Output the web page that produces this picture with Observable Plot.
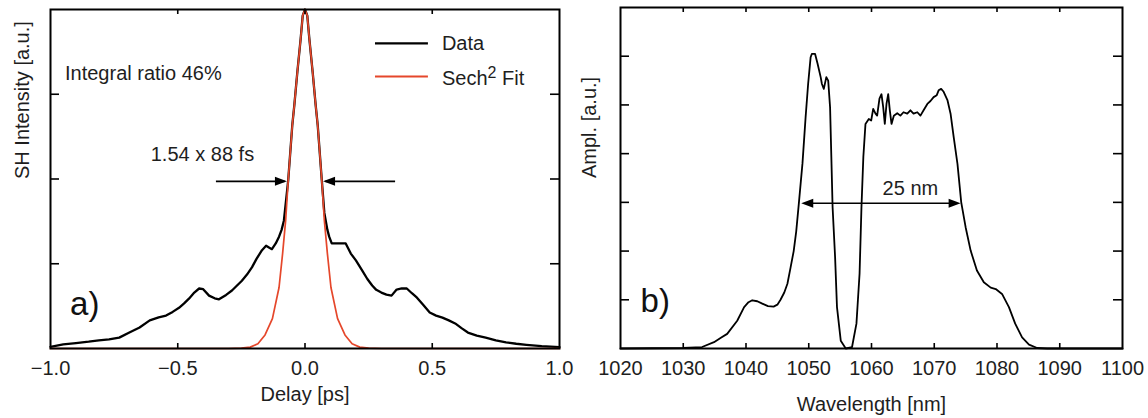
<!DOCTYPE html>
<html><head><meta charset="utf-8">
<script src="https://cdn.jsdelivr.net/npm/d3@7"></script>
<script src="https://cdn.jsdelivr.net/npm/@observablehq/plot@0.6"></script>
<style>
body{margin:0;background:#fff;}
#wrap{display:flex;width:1148px;height:418px;background:#fff;}
#wrap svg{display:block;}
</style></head><body><div id="wrap"></div>
<script>
// ---------- Panel a) autocorrelation ----------
const delay = [-1.00,-0.95,-0.90,-0.85,-0.81,-0.77,-0.73,-0.69,-0.65,-0.61,-0.575,-0.546,-0.52,-0.495,-0.475,-0.456,-0.435,-0.416,-0.40,-0.377,-0.355,-0.338,-0.31,-0.287,-0.268,-0.248,-0.228,-0.208,-0.19,-0.169,-0.153,-0.14,-0.13,-0.115,-0.102,-0.092,-0.083,-0.066,-0.050,-0.042,-0.030,-0.017,-0.009,0,0.009,0.017,0.030,0.042,0.050,0.066,0.076,0.088,0.095,0.105,0.13,0.16,0.18,0.20,0.225,0.245,0.264,0.28,0.30,0.32,0.34,0.36,0.38,0.40,0.42,0.44,0.465,0.49,0.515,0.54,0.565,0.59,0.615,0.64,0.675,0.71,0.75,0.79,0.83,0.87,0.93,1.0];
const shIntensity = [0.005,0.012,0.016,0.020,0.024,0.027,0.032,0.047,0.062,0.083,0.092,0.097,0.108,0.120,0.133,0.147,0.165,0.177,0.175,0.156,0.148,0.145,0.158,0.171,0.185,0.200,0.218,0.240,0.265,0.290,0.303,0.297,0.293,0.310,0.330,0.350,0.377,0.496,0.658,0.717,0.816,0.914,0.982,1.0,0.982,0.914,0.816,0.717,0.658,0.496,0.40,0.35,0.33,0.31,0.31,0.31,0.28,0.26,0.23,0.205,0.186,0.173,0.165,0.159,0.156,0.174,0.177,0.177,0.163,0.150,0.128,0.106,0.097,0.091,0.083,0.074,0.060,0.047,0.038,0.032,0.024,0.018,0.014,0.011,0.007,0.004];
const fitDelay = [-1.0,-0.30,-0.25,-0.215,-0.185,-0.157,-0.128,-0.102,-0.088,-0.076,-0.066,-0.050,-0.042,-0.030,-0.017,-0.009,0,0.009,0.017,0.030,0.042,0.050,0.066,0.076,0.088,0.102,0.128,0.157,0.185,0.215,0.25,0.30,1.0];
const fitIntensity = [0,0,0.001,0.004,0.014,0.040,0.088,0.180,0.280,0.378,0.496,0.658,0.717,0.816,0.914,0.982,1.0,0.982,0.914,0.816,0.717,0.658,0.496,0.378,0.280,0.180,0.088,0.040,0.014,0.004,0.001,0,0];
const delayTicks = [-1.0,-0.5,0.0,0.5,1.0];
const intensityTicks = [0.25,0.5,0.75];
const legendLabels = ["Data","Sech² Fit"];

// ---------- Panel b) spectrum ----------
const wavelength = [1020,1025,1030,1033,1034.9,1036,1037,1038.6,1039.7,1040.4,1041,1041.8,1042.6,1043.5,1044.4,1045,1045.5,1046.1,1046.6,1047.1,1047.6,1048.0,1048.4,1049.0,1049.5,1049.9,1050.3,1050.5,1051.0,1051.4,1051.9,1052.1,1052.4,1052.8,1053.1,1053.4,1053.6,1053.8,1054.2,1054.5,1055.1,1055.9,1056.9,1057.6,1058.1,1058.4,1058.7,1059.04,1059.57,1059.95,1060.27,1060.64,1060.9,1061.27,1061.59,1061.86,1062.12,1062.39,1062.66,1062.92,1063.19,1063.56,1064.1,1064.6,1065.1,1065.7,1066.2,1066.7,1067.3,1067.8,1068.3,1068.9,1069.4,1069.9,1070.4,1070.7,1071.1,1071.5,1072.1,1072.6,1073.1,1073.7,1074.3,1075.0,1075.8,1076.8,1077.9,1079.0,1079.8,1080.8,1081.9,1082.9,1084.0,1085.1,1086.4,1088,1100];
const amplitude = [0,0.005,0.01,0.03,0.13,0.22,0.30,0.57,0.85,0.95,0.99,0.97,0.92,0.87,0.86,0.90,1.0,1.15,1.33,1.66,2.0,2.4,2.95,3.8,4.75,5.43,5.98,6.05,6.05,5.85,5.57,5.43,5.33,5.57,5.50,4.95,3.93,2.90,1.87,0.85,0.16,0.0,0.03,0.51,1.54,2.90,3.93,4.61,4.71,4.68,4.92,4.82,4.78,5.13,5.22,4.96,4.61,5.02,5.22,4.89,4.61,4.78,4.83,4.78,4.85,4.82,4.89,4.82,4.85,4.78,4.89,5.02,5.08,5.16,5.20,5.30,5.33,5.27,5.10,4.82,4.34,3.79,3.0,2.49,2.01,1.60,1.36,1.25,1.22,1.12,0.85,0.51,0.23,0.08,0.01,0,0];
const wavelengthTicks = [1020,1030,1040,1050,1060,1070,1080,1090,1100];
const amplitudeTicks = [1,2,3,4,5,6];

const FONT = '"Liberation Sans", Arial, Helvetica, sans-serif';
const TXT = "#1e1e1e";
const RED = "#e5472b";
const FS = 20;

const headShape = {
  draw(context, l) {
    context.moveTo(0, -l);
    context.lineTo(-4.5, 0);
    context.lineTo(4.5, 0);
    context.closePath();
  }
};

function frameTicks(xt, yt, pw, ph) {
  return [
    Plot.tickX(xt, {x: d => d, insetTop: ph - 5, stroke: "black", strokeWidth: 1.6}),
    Plot.tickX(xt, {x: d => d, insetBottom: ph - 5, stroke: "black", strokeWidth: 1.6}),
    Plot.tickY(yt, {y: d => d, insetRight: pw - 9, stroke: "black", strokeWidth: 1.6}),
    Plot.tickY(yt, {y: d => d, insetLeft: pw - 9, stroke: "black", strokeWidth: 1.6}),
    Plot.frame({stroke: "black", strokeWidth: 2})
  ];
}

// Panel a
const aW = 574, aH = 418, aML = 50, aMR = 15, aMT = 9, aMB = 70;
const aPW = aW - aML - aMR, aPH = aH - aMT - aMB;
const dataA = delay.map((d, i) => ({x: d, y: shIntensity[i]}));
const fitA = fitDelay.map((d, i) => ({x: d, y: fitIntensity[i]}));

const plotA = Plot.plot({
  width: aW, height: aH,
  marginLeft: aML, marginRight: aMR, marginTop: aMT, marginBottom: aMB,
  x: {domain: [-1, 1], axis: null},
  y: {domain: [0, 1], axis: null},
  style: {fontFamily: FONT, color: TXT, background: "white"},
  marks: [
    Plot.axisX(delayTicks, {tickSize: 0, tickPadding: 12, tickFormat: d3.format(".1f"), fontSize: FS, label: null, stroke: null}),
    Plot.text(["Delay [ps]"], {frameAnchor: "bottom", dy: 46, lineAnchor: "middle", fontSize: FS, fill: TXT}),
    Plot.text(["SH Intensity [a.u.]"], {frameAnchor: "left", rotate: -90, dx: -28, lineAnchor: "middle", fontSize: FS, fill: TXT}),
    Plot.line(dataA, {x: "x", y: "y", stroke: "black", strokeWidth: 2.3}),
    Plot.line(fitA, {x: "x", y: "y", stroke: RED, strokeWidth: 1.7}),
    Plot.text(["Integral ratio 46%"], {x: [-0.943], y: [0.811], textAnchor: "start", lineAnchor: "middle", fontSize: FS, fill: TXT}),
    Plot.text(["1.54 x 88 fs"], {x: [-0.403], y: [0.571], textAnchor: "middle", lineAnchor: "middle", fontSize: FS, fill: TXT}),
    Plot.text(["a)"], {x: [-0.923], y: [0.13], textAnchor: "start", lineAnchor: "middle", fontSize: 33, fill: "#111"}),
    Plot.link([0], {x1: -0.35, x2: -0.08, y1: 0.493, y2: 0.493, stroke: "black", strokeWidth: 1.6}),
    Plot.link([0], {x1: 0.354, x2: 0.08, y1: 0.493, y2: 0.493, stroke: "black", strokeWidth: 1.6}),
    Plot.vector([{x: -0.071, r: 90}, {x: 0.071, r: -90}], {x: "x", y: () => 0.493, rotate: "r", length: 12, anchor: "end", shape: headShape, fill: "black", stroke: "none"}),
    Plot.link([0], {x1: 0.275, x2: 0.483, y1: 0.900, y2: 0.900, stroke: "black", strokeWidth: 2.3}),
    Plot.link([0], {x1: 0.275, x2: 0.483, y1: 0.802, y2: 0.802, stroke: RED, strokeWidth: 2}),
    Plot.text(legendLabels, {x: [0.538, 0.538], y: [0.900, 0.795], textAnchor: "start", lineAnchor: "middle", fontSize: FS, fill: TXT}),
    ...frameTicks([-0.5, 0, 0.5], intensityTicks, aPW, aPH)
  ]
});

// Panel b
const bW = 574, bH = 418, bML = 46, bMR = 26, bMT = 7, bMB = 70;
const bPW = bW - bML - bMR, bPH = bH - bMT - bMB;
const dataB = wavelength.map((d, i) => ({x: d, y: amplitude[i]}));

const plotB = Plot.plot({
  width: bW, height: bH,
  marginLeft: bML, marginRight: bMR, marginTop: bMT, marginBottom: bMB,
  x: {domain: [1020, 1100], axis: null},
  y: {domain: [0, 7], axis: null},
  style: {fontFamily: FONT, color: TXT, background: "white"},
  marks: [
    Plot.axisX(wavelengthTicks, {tickSize: 0, tickPadding: 12, tickFormat: d => String(d), fontSize: FS, label: null, stroke: null}),
    Plot.text(["Wavelength [nm]"], {frameAnchor: "bottom", dy: 56, lineAnchor: "middle", fontSize: FS, fill: TXT}),
    Plot.text(["Ampl. [a.u.]"], {frameAnchor: "left", rotate: -90, dx: -31, lineAnchor: "middle", fontSize: FS, fill: TXT}),
    Plot.line(dataB, {x: "x", y: "y", stroke: "black", strokeWidth: 1.8}),
    Plot.link([0], {x1: 1049.6, x2: 1073.5, y1: 2.98, y2: 2.98, stroke: "black", strokeWidth: 1.5}),
    Plot.vector([{x: 1048.8, r: -90}, {x: 1074.2, r: 90}], {x: "x", y: () => 2.98, rotate: "r", length: 12, anchor: "end", shape: headShape, fill: "black", stroke: "none"}),
    Plot.text(["25 nm"], {x: [1066.2], y: [3.29], textAnchor: "middle", lineAnchor: "middle", fontSize: FS, fill: TXT}),
    Plot.text(["b)"], {x: [1023.2], y: [0.965], textAnchor: "start", lineAnchor: "middle", fontSize: 33, fill: "#111"}),
    ...frameTicks(wavelengthTicks.slice(1, -1), amplitudeTicks, bPW, bPH)
  ]
});

// superscript 2 in legend
const NS = "http://www.w3.org/2000/svg";
plotA.querySelectorAll("text").forEach(t => {
  if (t.textContent === "Sech² Fit") {
    t.textContent = "";
    const a = document.createElementNS(NS, "tspan"); a.textContent = "Sech";
    const b = document.createElementNS(NS, "tspan"); b.textContent = "2"; b.setAttribute("dy", "-7"); b.setAttribute("font-size", "16");
    const c = document.createElementNS(NS, "tspan"); c.textContent = " Fit"; c.setAttribute("dy", "7");
    t.append(a, b, c);
  }
});

const wrap = document.getElementById("wrap");
wrap.append(plotA, plotB);
</script>
</body></html>
